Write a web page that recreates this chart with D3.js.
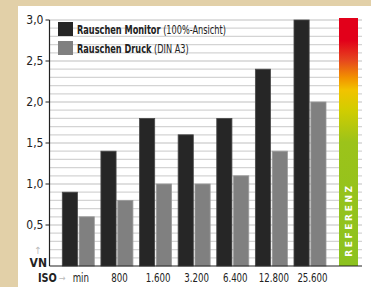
<!DOCTYPE html>
<meta charset="utf-8">
<title>Rauschen Monitor / Druck</title>
<style>
    body { margin: 0; background: #e2d0a8; }
    svg { display: block; }
    text { font-family: "Liberation Sans Narrow", "DejaVu Sans Condensed", "Liberation Sans", sans-serif; fill: #222; }
</style>
<script src="https://d3js.org/d3.v7.js"></script>

<svg id="chart" width="371" height="287"></svg>

<script>
    // data
    const categories = ["min", "800", "1.600", "3.200", "6.400", "12.800", "25.600"];
    const monitor = [0.9, 1.4, 1.8, 1.6, 1.8, 2.4, 3.0];
    const druck = [0.6, 0.8, 1.0, 1.0, 1.1, 1.4, 2.0];
    const yTicks = [0.5, 1.0, 1.5, 2.0, 2.5, 3.0];
    const seriesKeys = ["monitor", "druck"];
    const seriesNames = ["Rauschen Monitor", "Rauschen Druck"];
    const seriesNotes = ["(100%-Ansicht)", "(DIN A3)"];
    const seriesColors = ["#262626", "#808080"];

    const svg = d3.select("#chart"),
        width = +svg.attr("width"),
        height = +svg.attr("height");

    // squeeze a text horizontally (the original uses a condensed face)
    function condense(sel, k) {
        sel.each(function () {
            const w = this.getComputedTextLength();
            d3.select(this).attr("textLength", w * k).attr("lengthAdjust", "spacingAndGlyphs");
        });
    }

    // white panel
    svg.append("rect")
        .attr("x", 18).attr("y", 6)
        .attr("width", width - 18).attr("height", height - 6)
        .attr("fill", "#fff");

    const y = d3.scaleLinear().domain([0, 3]).range([266, 20]);
    const x = d3.scaleBand().domain(categories).range([62.3, 326]).paddingInner(0.171).paddingOuter(0);
    const xs = d3.scaleBand().domain(seriesKeys).range([0, x.bandwidth()]).paddingInner(0.1);

    const axisX = 49.5, gridEnd = 362;

    // gridlines every 0.1
    svg.append("g")
        .selectAll("line")
        .data(d3.range(1, 31).map(d => d / 10))
        .join("line")
        .attr("x1", axisX).attr("x2", gridEnd)
        .attr("y1", d => y(d)).attr("y2", d => y(d))
        .attr("stroke", "#d4d4d4")
        .attr("stroke-width", 1.3);

    // bars
    const rows = categories.map((c, i) => ({ cat: c, monitor: monitor[i], druck: druck[i] }));
    svg.append("g")
        .selectAll("g")
        .data(rows)
        .join("g")
        .attr("transform", d => `translate(${x(d.cat)},0)`)
        .selectAll("rect")
        .data(d => seriesKeys.map((k, j) => ({ key: k, value: d[k], color: seriesColors[j] })))
        .join("rect")
        .attr("x", d => xs(d.key))
        .attr("y", d => y(d.value))
        .attr("width", xs.bandwidth())
        .attr("height", d => y(0) - y(d.value))
        .attr("fill", d => d.color)
        .attr("stroke", d => d.key === "monitor" ? "#4a4a4a" : "#9a9a9a")
        .attr("stroke-width", 0.8);

    // reference bar
    const grad = svg.append("defs").append("linearGradient")
        .attr("id", "ref").attr("x1", 0).attr("x2", 0).attr("y1", 0).attr("y2", 1);
    [[0, "#e2001a"], [0.09, "#e2001a"], [0.17, "#e6461e"], [0.24, "#f29100"], [0.29, "#f2c300"],
     [0.37, "#d2cd00"], [0.5, "#9cc31a"], [1, "#8cc21f"]]
        .forEach(s => grad.append("stop").attr("offset", s[0]).attr("stop-color", s[1]));
    svg.append("rect")
        .attr("x", 339).attr("y", 18)
        .attr("width", 19).attr("height", y(0) - 18)
        .attr("fill", "url(#ref)");
    svg.append("text")
        .attr("transform", "translate(352,220) rotate(-90)")
        .attr("text-anchor", "middle")
        .style("fill", "#fff")
        .style("font-family", "'DejaVu Sans', sans-serif")
        .style("font-weight", "bold")
        .style("font-size", "9px")
        .style("letter-spacing", "2.6px")
        .text("REFERENZ");

    // axes
    svg.append("line")
        .attr("x1", axisX).attr("x2", axisX)
        .attr("y1", y(3)).attr("y2", y(0))
        .attr("stroke", "#222").attr("stroke-width", 1.2);
    svg.append("line")
        .attr("x1", axisX).attr("x2", gridEnd)
        .attr("y1", y(0)).attr("y2", y(0))
        .attr("stroke", "#222").attr("stroke-width", 1.2);

    const fmt = d => d3.format(".1f")(d).replace(".", ",");
    const yt = svg.append("g").selectAll("g").data(yTicks).join("g")
        .attr("transform", d => `translate(0,${y(d)})`);
    yt.append("line").attr("x1", axisX - 4).attr("x2", axisX).attr("stroke", "#222");
    yt.append("text")
        .attr("x", axisX - 6).attr("dy", "0.35em")
        .attr("text-anchor", "end")
        .style("font-size", "12px")
        .text(fmt);

    // x labels
    svg.append("g").selectAll("text").data(categories).join("text")
        .attr("x", d => x(d) + x.bandwidth() / 2 + 2.5)
        .attr("y", 282)
        .attr("text-anchor", "middle")
        .style("font-size", "12px")
        .text(d => d)
        .call(condense, 0.8);

    // axis titles
    svg.append("text").attr("x", 47).attr("y", 267).attr("text-anchor", "end")
        .style("font-weight", "bold").style("font-size", "12px").text("VN");
    svg.append("text").attr("x", 38).attr("y", 254).attr("text-anchor", "middle")
        .style("fill", "#bbb").style("font-size", "10px").text("↑");
    svg.append("text").attr("x", 38).attr("y", 282)
        .style("font-weight", "bold").style("font-size", "12px").text("ISO")
        .call(condense, 0.9);
    svg.append("text").attr("x", 59).attr("y", 281)
        .style("fill", "#bbb").style("font-size", "9px").text("→");

    // legend: swatch, then bold name and regular note, squeezed with a scale
    const lg = svg.append("g").selectAll("g").data(seriesNames).join("g")
        .attr("transform", (d, i) => `translate(58,${22 + i * 19})`);
    lg.append("rect").attr("width", 15).attr("height", 14)
        .attr("fill", (d, i) => seriesColors[i]);
    lg.each(function (d, i) {
        const g = d3.select(this).append("g").attr("transform", "translate(19,11.5) scale(0.76,1)");
        const name = g.append("text").style("font-size", "12px").style("font-weight", "bold").text(d);
        const w = name.node().getComputedTextLength();
        g.append("text").attr("x", w + 3.5).style("font-size", "12px").text(seriesNotes[i]);
    });
</script>
